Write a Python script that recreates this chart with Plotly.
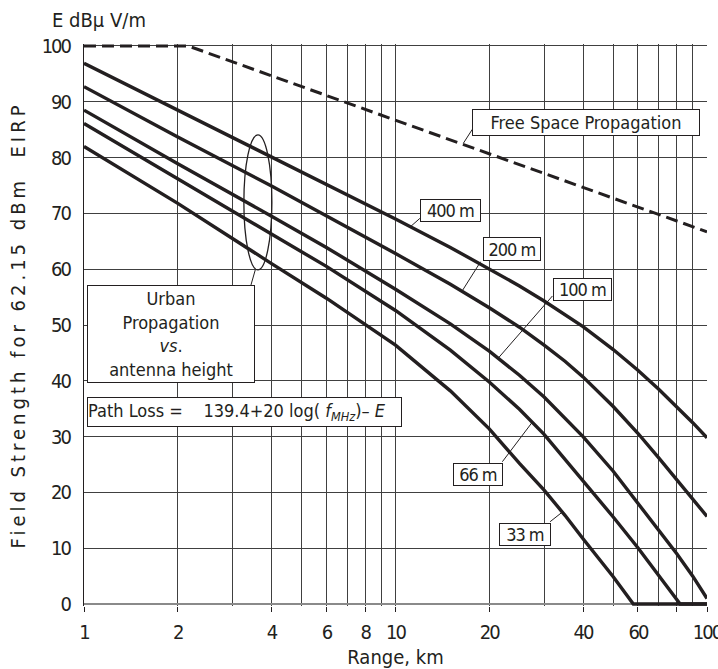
import plotly.graph_objects as go

# ---------------- data ----------------
dist = [1, 2, 4, 6, 10, 15, 20, 25, 30, 35, 40, 50, 60, 70, 80, 90, 100]
e_400 = [96.9, 88.5, 80.2, 75.3, 69.0, 63.9, 60.1, 57.0, 54.3, 51.9, 49.7, 45.6, 41.9, 38.5, 35.4, 32.5, 29.8]
e_200 = [92.7, 83.7, 74.9, 69.6, 62.8, 57.3, 53.1, 49.6, 46.4, 43.5, 40.7, 35.4, 30.6, 26.2, 22.3, 18.8, 15.7]
e_100 = [88.5, 78.9, 69.5, 63.9, 56.4, 50.2, 45.3, 41.0, 37.1, 33.4, 30.0, 23.8, 18.0, 13.3, 9.0, 5.0, 1.0]

dist_66 = [1, 2, 4, 6, 10, 15, 20, 25, 30, 35, 40, 50, 60, 70, 80, 82, 100]
e_66 = [86.1, 76.2, 66.3, 60.5, 52.6, 45.5, 39.8, 34.9, 30.4, 26.0, 22.0, 15.6, 10.1, 5.2, 0.9, 0, 0]

dist_33 = [1, 2, 4, 6, 10, 15, 20, 25, 30, 35, 40, 50, 58, 100]
e_33 = [82.0, 71.8, 61.0, 54.8, 46.4, 38.2, 31.4, 25.2, 20.4, 15.9, 11.7, 4.9, 0, 0]

fs_dist = [1, 2.16, 100]
fs_e = [100, 100, 66.7]

x_major = [1, 2, 4, 6, 8, 10, 20, 40, 60, 80, 100]
x_major_text = ["1", "2", "4", "6", "8", "10", "20", "40", "60", "", "100"]
x_minor = [3, 5, 7, 9, 30, 50, 70, 90]
y_ticks = [0, 10, 20, 30, 40, 50, 60, 70, 80, 90, 100]

FONT = "Liberation Sans Narrow, DejaVu Sans Condensed, Roboto Condensed, Arial Narrow, sans-serif"
INK = "#231f20"
GRID = "#404040"


def tight(s, sp=-2):
    return f'<span style="letter-spacing:{sp}px">{s}</span>' if s else s


fig = go.Figure()

fig.add_trace(go.Scatter(x=fs_dist, y=fs_e, mode="lines",
                         line=dict(color=INK, width=3, dash="12px,6px"),
                         showlegend=False, hoverinfo="skip"))

for xs, ys in [(dist, e_400), (dist, e_200), (dist, e_100), (dist_66, e_66), (dist_33, e_33)]:
    fig.add_trace(go.Scatter(x=xs, y=ys, mode="lines",
                             line=dict(color=INK, width=3.4),
                             showlegend=False, hoverinfo="skip"))

# ---------------- boxes / labels ----------------
def box(text, x, y, w, h, size=18, xanchor="center", align="center"):
    fig.add_annotation(x=x, y=y, xref="x", yref="y", text=text, showarrow=False,
                       font=dict(family=FONT, size=size, color=INK),
                       bgcolor="white", bordercolor=INK, borderwidth=1, borderpad=0,
                       width=w, height=h, xanchor=xanchor, yanchor="middle", align=align)

box("Free Space Propagation", 1.6106, 86.25, 226, 25)
box(tight("400 m", -1), 1.1759, 70.54, 59, 21)
box(tight("200 m", -1), 1.3752, 63.64, 56, 22)
box(tight("100 m", -1), 1.6013, 56.42, 57, 21)
box(tight("66 m", -1), 1.2653, 23.26, 48, 21)
box(tight("33 m", -1), 1.4145, 12.51, 50, 21)
box("Urban<br>Propagation<br><i>vs</i>.<br>antenna height", 0.2804, 48.35, 166, 96)
box("Path Loss =\u00a0\u00a0\u00a0\u00a0139.4+20 log( <i>f</i><sub><i>MHz</i></sub>)\u2013 <i>E</i>",
    0.0106, 34.46, 313, 28, xanchor="left", align="left")

# leader lines (shapes use raw data values on the log axis)
leaders = [
    (17.65, 85.07, 16.51, 82.56),
    (11.97, 69.10, 11.17, 67.62),
    (18.76, 61.34, 16.39, 56.15),
    (31.90, 55.20, 21.49, 44.22),
    (22.03, 25.50, 27.50, 32.60),
    (31.35, 14.75, 34.36, 16.50),
    (3.546, 59.86, 3.436, 57.17),
]
for x0, y0, x1, y1 in leaders:
    fig.add_shape(type="line", xref="x", yref="y", x0=x0, y0=y0, x1=x1, y1=y1,
                  line=dict(color=INK, width=1))

fig.add_shape(type="circle", xref="x", yref="y", x0=3.26, x1=4.01, y0=59.86, y1=84.05,
              line=dict(color=INK, width=1.3))

fig.add_annotation(text="E dB\u03bc V/m", xref="paper", yref="paper",
                   x=-0.055, y=1.0427, xanchor="left", yanchor="middle", showarrow=False,
                   font=dict(family=FONT, size=20, color=INK))

fig.update_layout(
    width=718, height=669,
    margin=dict(l=84, r=11, t=44, b=63),
    paper_bgcolor="white", plot_bgcolor="white",
    font=dict(family=FONT, size=20, color=INK),
    showlegend=False,
    xaxis=dict(type="log", range=[0, 2], automargin=False,
               tickmode="array", tickvals=x_major, ticktext=[tight(t) for t in x_major_text],
               ticks="outside", ticklen=5, tickcolor=INK, tickwidth=1,
               ticklabeloverflow="allow", ticklabelstandoff=3,
               showgrid=True, gridcolor=GRID, gridwidth=1,
               minor=dict(tickmode="array", tickvals=x_minor, showgrid=True,
                          gridcolor=GRID, gridwidth=1, ticks=""),
               showline=False, zeroline=False,
               title=dict(text="Range, km", font=dict(family=FONT, size=20, color=INK), standoff=8),
               tickfont=dict(family=FONT, size=20, color=INK)),
    yaxis=dict(range=[-0.35, 100.35], automargin=False,
               tickmode="array", tickvals=y_ticks, ticktext=[tight(str(v)) for v in y_ticks],
               ticks="outside", ticklen=9, tickcolor="rgba(0,0,0,0)",
               showgrid=True, gridcolor=GRID, gridwidth=1,
               zeroline=True, zerolinecolor="#8a8a8a", zerolinewidth=2.5,
               showline=True, linecolor=INK, linewidth=1,
               title=dict(text='<span style="letter-spacing:4px">Field Strength for 62.15 dBm  EIRP</span>',
                          font=dict(family=FONT, size=20, color=INK), standoff=10),
               tickfont=dict(family=FONT, size=20, color=INK)),
)

fig.write_html("out.html", config={"displayModeBar": False, "staticPlot": True},
               post_script="document.body.style.margin='0px';")
